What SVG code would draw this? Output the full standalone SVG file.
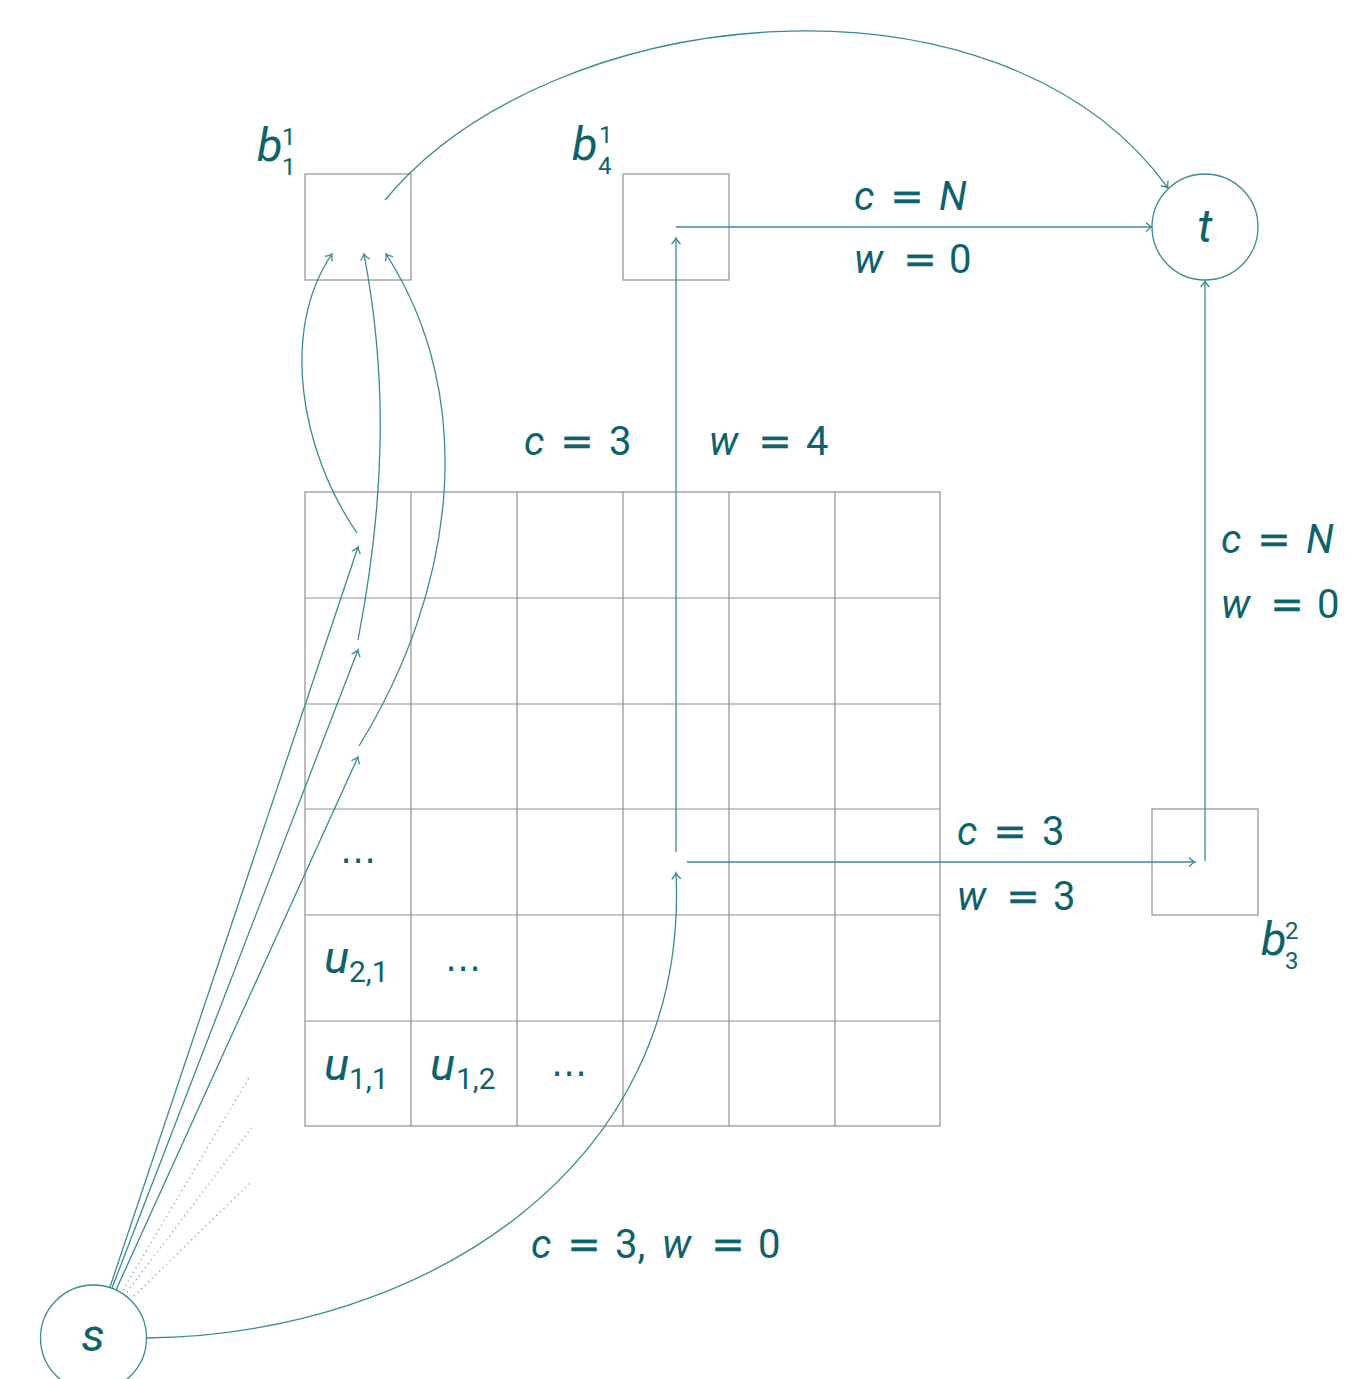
<svg xmlns="http://www.w3.org/2000/svg" width="1364" height="1379" viewBox="0 0 1364 1379">
<defs>
<style>
.edge{fill:none;stroke:#3a8b91;stroke-width:1.3}
.dot{fill:none;stroke:#5aa2a8;stroke-width:1.4;stroke-dasharray:1 4}
.box{fill:none;stroke:#8f8f8f;stroke-width:1.2}
.circ{fill:#fff;stroke:#3a8b91;stroke-width:1.3}
.v{font-family:Roboto,"Liberation Sans",sans-serif;font-style:italic;fill:#0e626b}
.n{font-family:Roboto,"Liberation Sans",sans-serif;fill:#0e626b}
.eq{font-family:"DejaVu Sans",sans-serif;fill:#0e626b;stroke:#0e626b;stroke-width:0.4}
.big{font-size:47px}
.lbl{font-size:40px}
.sm{font-size:24px}
.sub{font-size:30px}
.ell{font-family:"DejaVu Sans",sans-serif;fill:#0e626b;font-size:36px}
</style>
<marker id="arr" markerUnits="userSpaceOnUse" markerWidth="14" markerHeight="14" viewBox="-8 -7 10 14" refX="0" refY="0" orient="auto">
<path d="M-6,-4.5 C-3.5,-2 -1.2,-0.4 0,0 C-1.2,0.4 -3.5,2 -6,4.5" fill="none" stroke="#3a8b91" stroke-width="1.3"/>
</marker>
</defs>
<rect width="1364" height="1379" fill="#fff"/>

<g id="grid">
<g class="box">
<rect x="305" y="492" width="635" height="634"/>
<line x1="411" y1="492" x2="411" y2="1126"/>
<line x1="517" y1="492" x2="517" y2="1126"/>
<line x1="623" y1="492" x2="623" y2="1126"/>
<line x1="729" y1="492" x2="729" y2="1126"/>
<line x1="835" y1="492" x2="835" y2="1126"/>
<line x1="305" y1="598" x2="940" y2="598"/>
<line x1="305" y1="704" x2="940" y2="704"/>
<line x1="305" y1="809" x2="940" y2="809"/>
<line x1="305" y1="915" x2="940" y2="915"/>
<line x1="305" y1="1021" x2="940" y2="1021"/>
</g>
<text class="ell" x="358" y="872" text-anchor="middle">⋯</text>
<text class="ell" x="463" y="980" text-anchor="middle">⋯</text>
<text class="ell" x="569" y="1085" text-anchor="middle">⋯</text>
<g id="u21"><text class="v big" x="324" y="973">u</text><text class="n sub" x="349" y="982">2,1</text></g>
<g id="u11"><text class="v big" x="324" y="1080">u</text><text class="n sub" x="349" y="1089">1,1</text></g>
<g id="u12"><text class="v big" x="430" y="1080">u</text><text class="n sub" x="456" y="1089">1,2</text></g>
</g>

<g id="b11">
<rect class="box" x="305" y="174" width="106" height="106"/>
<text class="v big" x="257" y="161">b</text>
<text class="n sm" x="282" y="145">1</text>
<text class="n sm" x="282" y="175">1</text>
</g>
<g id="b41">
<rect class="box" x="623" y="174" width="106" height="106"/>
<text class="v big" x="572" y="160">b</text>
<text class="n sm" x="599" y="143">1</text>
<text class="n sm" x="598" y="174">4</text>
</g>
<g id="b32">
<rect class="box" x="1152" y="809" width="106" height="106"/>
<text class="v big" x="1261" y="955">b</text>
<text class="n sm" x="1285" y="939">2</text>
<text class="n sm" x="1285" y="969">3</text>
</g>

<g id="connectors">
<path class="edge" d="M385,200 C550,0 1000,-45 1168,188" marker-end="url(#arr)"/>
<path class="edge" d="M676,227 L1152,227" marker-end="url(#arr)"/>
<path class="edge" d="M676,852 L676,238" marker-end="url(#arr)"/>
<path class="edge" d="M687,862 L1195,862" marker-end="url(#arr)"/>
<path class="edge" d="M1205,861 L1205,281" marker-end="url(#arr)"/>
<path class="edge" d="M146,1338 C420,1335 690,1170 676,873" marker-end="url(#arr)"/>
<path class="edge" d="M110,1287 L358,547" marker-end="url(#arr)"/>
<path class="edge" d="M112,1288 L358,650" marker-end="url(#arr)"/>
<path class="edge" d="M116,1290 L358,757" marker-end="url(#arr)"/>
<path class="edge" d="M357,533 C300,450 280,330 332,254" marker-end="url(#arr)"/>
<path class="edge" d="M358,640 C385,500 388,380 364,254" marker-end="url(#arr)"/>
<path class="edge" d="M359,746 C455,590 480,400 386,254" marker-end="url(#arr)"/>
<path class="dot" d="M123,1290 L250,1076"/>
<path class="dot" d="M127,1292 L252,1127"/>
<path class="dot" d="M134,1296 L250,1183"/>
</g>

<g id="labels">
<text class="v lbl" x="524" y="455">c</text><text class="eq lbl" x="577" y="455" text-anchor="middle">=</text><text class="n lbl" x="609" y="455">3</text>
<text class="v lbl" x="709" y="455">w</text><text class="eq lbl" x="775" y="455" text-anchor="middle">=</text><text class="n lbl" x="806" y="455">4</text>
<text class="v lbl" x="854" y="210">c</text><text class="eq lbl" x="907" y="210" text-anchor="middle">=</text><text class="v lbl" x="939" y="210">N</text>
<text class="v lbl" x="854" y="273">w</text><text class="eq lbl" x="920" y="273" text-anchor="middle">=</text><text class="n lbl" x="949" y="273">0</text>
<text class="v lbl" x="1221" y="553">c</text><text class="eq lbl" x="1274" y="553" text-anchor="middle">=</text><text class="v lbl" x="1306" y="553">N</text>
<text class="v lbl" x="1221" y="618">w</text><text class="eq lbl" x="1287" y="618" text-anchor="middle">=</text><text class="n lbl" x="1317" y="618">0</text>
<text class="v lbl" x="957" y="845">c</text><text class="eq lbl" x="1010" y="845" text-anchor="middle">=</text><text class="n lbl" x="1042" y="845">3</text>
<text class="v lbl" x="957" y="910">w</text><text class="eq lbl" x="1023" y="910" text-anchor="middle">=</text><text class="n lbl" x="1053" y="910">3</text>
<text class="v lbl" x="531" y="1258">c</text><text class="eq lbl" x="584" y="1258" text-anchor="middle">=</text><text class="n lbl" x="615" y="1258">3,</text><text class="v lbl" x="662" y="1258">w</text><text class="eq lbl" x="728" y="1258" text-anchor="middle">=</text><text class="n lbl" x="758" y="1258">0</text>
</g>

<g id="s">
<circle class="circ" cx="93.5" cy="1338" r="53"/>
<text class="v big" x="93" y="1351" text-anchor="middle">s</text>
</g>
<g id="t">
<circle class="circ" cx="1205" cy="227" r="53"/>
<text class="v big" x="1205" y="242" text-anchor="middle">t</text>
</g>
</svg>
